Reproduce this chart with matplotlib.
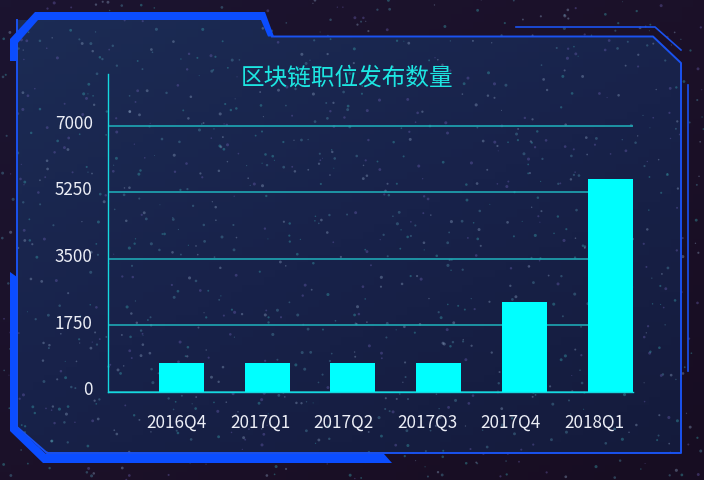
import numpy as np
import matplotlib
matplotlib.use("Agg")
import matplotlib.pyplot as plt
from matplotlib.patches import Polygon
from matplotlib.transforms import ScaledTranslation
from matplotlib.colors import LinearSegmentedColormap

# ---- data ----
categories = ["2016Q4", "2017Q1", "2017Q2", "2017Q3", "2017Q4", "2018Q1"]
values = [760, 760, 760, 760, 2370, 5590]
y_ticks = [0, 1750, 3500, 5250, 7000]
title = "区块链职位发布数量"

plt.rcParams['font.family'] = ['Noto Sans CJK SC', 'DejaVu Sans']

W, H = 704, 481
fig = plt.figure(figsize=(W / 100, H / 100), dpi=100)

# ---- decorative background in pixel coordinates ----
bg = fig.add_axes([0, 0, 1, 1])
bg.set_xlim(0, W)
bg.set_ylim(H, 0)
bg.axis('off')

outer_cmap = LinearSegmentedColormap.from_list('o', ['#1b1430', '#1c1129', '#170d22'])
gx = np.linspace(0, 1, 64)
gy = np.linspace(0, 1, 64)
GX, GY = np.meshgrid(gx, gy)
bg.imshow(0.5 * GX + 0.5 * GY, cmap=outer_cmap, extent=[0, W, H, 0], aspect='auto', zorder=0)

panel_pts = [(17, 21), (265, 21), (272, 37.5), (653, 37.5), (681, 64), (681, 454), (47, 454), (17, 428)]
panel_cmap = LinearSegmentedColormap.from_list('p', ['#1c2c55', '#18224a', '#141a3a'])
im = bg.imshow(0.6 * GY + 0.4 * GX, cmap=panel_cmap, extent=[0, W, H, 0], aspect='auto', zorder=1)
clip = Polygon(panel_pts, closed=True, transform=bg.transData, facecolor='none', edgecolor='none')
bg.add_patch(clip)
im.set_clip_path(clip)

# speckle texture (decoration only)
rng = np.random.default_rng(7)
n = 1100
sx = rng.uniform(0, W, n)
sy = rng.uniform(0, H, n)
cols = rng.choice(['#3aa6b0', '#4f8fa8', '#6a5fb0', '#8aa0c0'], n)
bg.scatter(sx, sy, s=rng.uniform(0.5, 5.0, n), c=cols, alpha=0.4, linewidths=0, zorder=2)

blue = '#0b4dff'
line_blue = '#1a52f0'
# panel border
bg.plot([272, 653, 681, 681, 47, 17, 17], [37.5, 37.5, 64, 454, 454, 428, 21],
        color=line_blue, lw=1.4, zorder=3)
# thick top-left strip
bg.add_patch(Polygon([(10, 62), (10, 40), (35, 13), (265, 13), (274, 37.5), (268, 37.5),
                      (261, 21), (38, 21), (17, 45), (17, 62)], closed=True,
                     facecolor=blue, edgecolor='none', zorder=4))
# thick left-bottom strip
bg.add_patch(Polygon([(10, 273), (17, 278), (17, 428), (46, 455), (384, 455), (392, 464),
                      (43, 464), (10, 432)], closed=True,
                     facecolor=blue, edgecolor='none', zorder=4))
# outer thin lines top right
bg.plot([516, 655, 681], [28, 28, 51], color=line_blue, lw=1.2, zorder=3)
bg.plot([688, 688], [86, 372], color=line_blue, lw=1.2, zorder=3)

# ---- chart ----
ax_left, ax_right, ax_bottom, ax_top = 107.5, 632.7, 393, 75
ax = fig.add_axes([ax_left / W, (H - ax_bottom) / H, (ax_right - ax_left) / W, (ax_bottom - ax_top) / H])
ax.patch.set_alpha(0)
x = np.arange(len(categories))
ax.bar(x, values, width=0.525, color='#00ffff', zorder=3)
ax.set_xlim(-0.863, 5.2625)
ax.set_ylim(0, 7000 * (ax_bottom - ax_top) / 266.3)

ax.set_yticks(y_ticks)
ax.set_yticklabels([str(v) for v in y_ticks])
ax.yaxis.grid(True, color='#1fb3bd', lw=1.1, zorder=1)
ax.set_axisbelow(True)

ax.set_xticks(x * 0.975 - 0.06)
ax.set_xticklabels(categories)

for s in ['top', 'right']:
    ax.spines[s].set_visible(False)
for s in ['left', 'bottom']:
    ax.spines[s].set_color('#14d8e0')
    ax.spines[s].set_linewidth(1.0)
ax.spines['bottom'].set_zorder(4)

ax.tick_params(axis='both', length=0, colors='#eceef6', labelsize=12.3)
ax.tick_params(axis='y', pad=10.7)
ax.tick_params(axis='x', pad=21.6)
for lab in ax.get_xticklabels():
    lab.set_va('center')
for lab in ax.get_yticklabels():
    lab.set_transform(lab.get_transform() + ScaledTranslation(0, 3.5 / 72, fig.dpi_scale_trans))

fig.text(347 / W, 1 - 78 / H, title, ha='center', va='center', fontsize=17, color='#1de6e2')

fig.savefig('out.png', dpi=100)
